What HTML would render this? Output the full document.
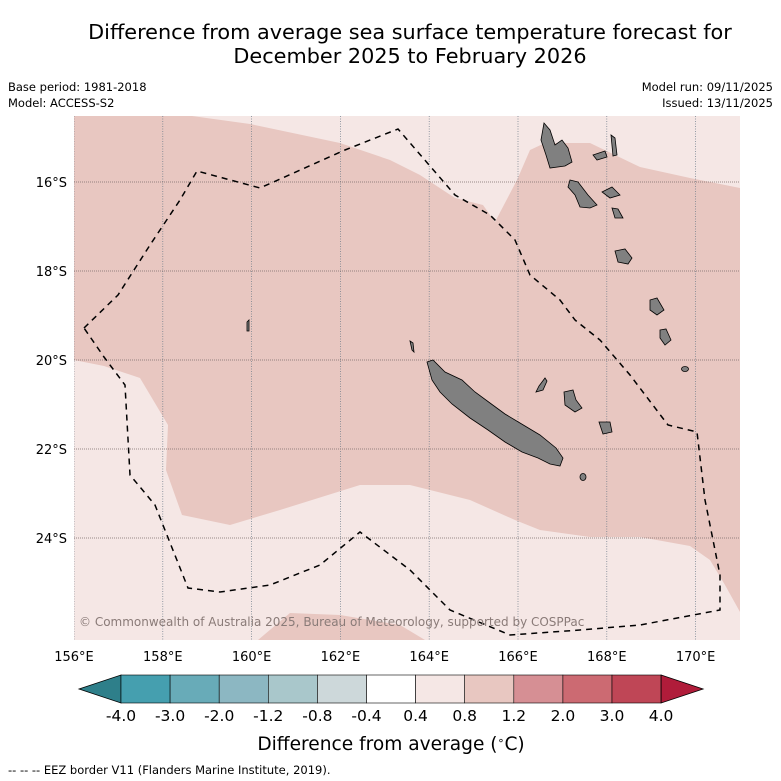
<!DOCTYPE html>
<html><head><meta charset="utf-8"><style>
html,body{margin:0;padding:0;background:#fff;width:781px;height:781px;overflow:hidden}
svg text{font-family:"DejaVu Sans","Liberation Sans",sans-serif}
</style></head><body>
<svg id="fig" width="781" height="781" viewBox="0 0 781 781" xmlns="http://www.w3.org/2000/svg">
<text x="410" y="39" text-anchor="middle" font-size="20.8" fill="#000">Difference from average sea surface temperature forecast for</text>
<text x="410" y="63" text-anchor="middle" font-size="20.8" fill="#000">December 2025 to February 2026</text>
<text x="8" y="91" font-size="11.5">Base period: 1981-2018</text>
<text x="8" y="107" font-size="11.5">Model: ACCESS-S2</text>
<text x="773" y="91" font-size="11.5" text-anchor="end">Model run: 09/11/2025</text>
<text x="773" y="107" font-size="11.5" text-anchor="end">Issued: 13/11/2025</text>
<defs><clipPath id="mc"><rect x="74" y="116" width="666" height="524"/></clipPath></defs>
<g clip-path="url(#mc)">
<rect x="74" y="116" width="666" height="524" fill="#e8c7c1"/>
<path d="M192,116 L250,124 L340,143 L390,160 L420,175 L455,198 L483,205 L495,222 L517,180 L530,150 L545,143 L590,143 L640,167 L690,178 L740,188 L740,116 Z" fill="#f5e7e5"/>
<path d="M74,360 L104,366 L140,378 L168,425 L166,470 L182,515 L230,525 L280,510 L360,485 L410,485 L470,500 L515,520 L540,530 L590,537 L640,537 L690,546 L710,560 L725,585 L740,612 L740,640 L74,640 Z" fill="#f5e7e5"/>
<path d="M258,640 L290,613 L340,615 L400,625 L425,640 Z" fill="#e8c7c1"/>
<g id="grid"></g>
<path d="M84,328 L118,295 L150,245 L180,200 L197,171 L260,188 L345,150 L398,129 L455,195 L490,215 L515,240 L530,275 L560,300 L575,320 L600,340 L630,375 L668,425 L697,432 L705,500 L720,575 L720,610 L640,625 L580,630 L510,635 L450,610 L410,570 L360,532 L320,565 L270,585 L220,592 L188,588 L155,505 L130,475 L125,385 L104,357 Z" fill="none" stroke="#000" stroke-width="1.5" stroke-dasharray="6,5"/>
<g fill="#808080" stroke="#000" stroke-width="0.8">
<path d="M427,362 L433,360 L445,372 L462,380 L475,392 L490,403 L505,414 L520,423 L540,435 L556,448 L563,458 L560,466 L550,464 L538,458 L522,452 L505,442 L488,430 L470,418 L452,404 L440,392 L432,380 Z"/>
<path d="M544,123 L550,130 L555,145 L562,140 L568,148 L572,162 L565,166 L550,168 L546,155 L541,140 Z"/>
<path d="M570,180 L578,182 L588,195 L597,205 L590,208 L580,207 L575,195 L568,187 Z"/>
<path d="M593,155 L605,151 L607,157 L597,160 Z"/>
<path d="M611,135 L615,138 L617,155 L613,156 Z"/>
<path d="M602,192 L612,187 L620,195 L610,198 Z"/>
<path d="M612,208 L618,209 L623,218 L615,218 Z"/>
<path d="M615,251 L625,249 L632,258 L628,264 L618,262 Z"/>
<path d="M650,300 L657,298 L664,310 L657,315 L650,310 Z"/>
<path d="M660,330 L666,329 L671,340 L665,345 L660,338 Z"/>
<ellipse cx="685" cy="369" rx="3.5" ry="2.5"/>
<path d="M564,392 L573,390 L576,400 L582,408 L575,412 L565,405 Z"/>
<path d="M599,422 L610,422 L612,432 L603,434 Z"/>
<path d="M539,386 L545,378 L547,381 L543,390 L536,392 Z"/>
<ellipse cx="583" cy="477" rx="3" ry="3.5"/>
<path d="M410,341 L413,343 L414,352 L412,350 Z"/>
<path d="M247,322 L249,320 L249,331 L247,331 Z"/>
</g>
<text x="79" y="626" font-size="12" fill="#8a7b78">© Commonwealth of Australia 2025, Bureau of Meteorology, supported by COSPPac</text>
</g>
<g id="axes"></g>
<g id="cbar"></g>
<text x="391" y="750" text-anchor="middle" font-size="18.6">Difference from average (<tspan baseline-shift="super" font-size="11">∘</tspan>C)</text>
<text x="8" y="774" font-size="11.5">--  --  -- EEZ border V11 (Flanders Marine Institute, 2019).</text>
</svg>
<script>
const lonTicks=[156,158,160,162,164,166,168,170];
const latTicks=[16,18,20,22,24];
const cbTicks=["-4.0","-3.0","-2.0","-1.2","-0.8","-0.4","0.4","0.8","1.2","2.0","3.0","4.0"];
const cbColors=["#459faf","#68abb8","#8cb7c2","#a9c7cb","#cdd8da","#ffffff","#f5e7e5","#e8c7c1","#d68f94","#cc6a72","#bf4656"];
const NS="http://www.w3.org/2000/svg";
const xL=lon=>74+(lon-156)*44.4;
const yL=lat=>182+(lat-16)*44.5;
function mk(tag,attrs,parent){const e=document.createElementNS(NS,tag);for(const k in attrs)e.setAttribute(k,attrs[k]);parent.appendChild(e);return e;}
const grid=document.getElementById('grid'),axes=document.getElementById('axes'),cbar=document.getElementById('cbar');
lonTicks.forEach(l=>{
 const ln=mk('line',{x1:xL(l),x2:xL(l),y1:116,y2:640,stroke:'#6a7a88','stroke-width':0.7,'stroke-dasharray':'1,1.5'},grid);
 
 
 const t=mk('text',{x:xL(l),y:661,'text-anchor':'middle','font-size':13},axes);t.textContent=l+'°E';
 
 
});
latTicks.forEach(l=>{
 const ln=mk('line',{x1:74,x2:740,y1:yL(l),y2:yL(l),stroke:'#7a6a68','stroke-width':0.7,'stroke-dasharray':'1,1'},grid);
 
 
 const t=mk('text',{x:67,y:yL(l)+5,'text-anchor':'end','font-size':13},axes);t.textContent=l+'°S';
 
 
});
const cx0=121,cw=49.1,cy=675,ch=28;
const lt=mk('polygon',{points:`79,${cy+ch/2} ${cx0},${cy} ${cx0},${cy+ch}`,fill:'#2e7f8a',stroke:'#000','stroke-width':0.8},cbar);


cbColors.forEach((c,i)=>{
 const r=mk('rect',{x:cx0+i*cw,y:cy,width:cw,height:ch,fill:c,stroke:'#000','stroke-width':0.6},cbar);
 
 
});
const xe=cx0+cbColors.length*cw;
const rt=mk('polygon',{points:`${xe},${cy} ${xe+42},${cy+ch/2} ${xe},${cy+ch}`,fill:'#b01c3a',stroke:'#000','stroke-width':0.8},cbar);


cbTicks.forEach((t,i)=>{
 const e=mk('text',{x:cx0+i*cw,y:721,'text-anchor':'middle','font-size':15.5},cbar);e.textContent=t;
 
 
});
</script>
</body></html>
